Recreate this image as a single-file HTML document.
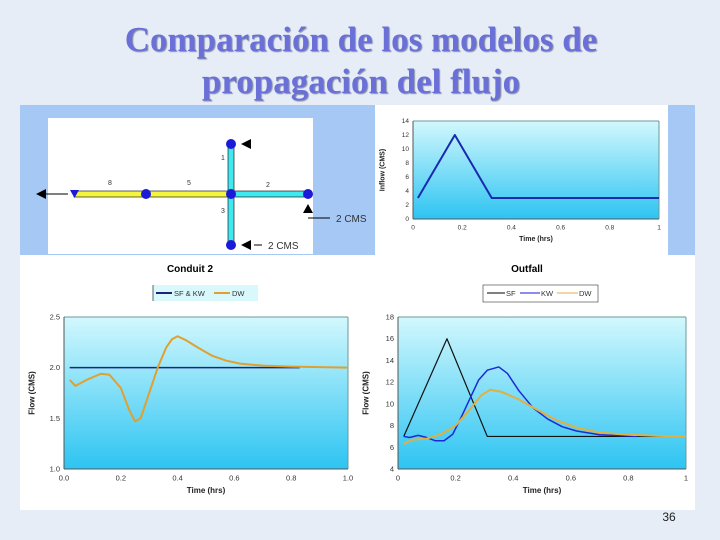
<!DOCTYPE html>
<html><head><meta charset="utf-8"><style>
html,body{margin:0;padding:0;background:#e6edf6;}
svg{display:block;font-family:"Liberation Sans",sans-serif;}
</style></head><body>
<svg id="s" width="720" height="540" viewBox="0 0 720 540">
<defs>
<linearGradient id="g" x1="0" y1="0" x2="0" y2="1"><stop offset="0" stop-color="#d2f8fd"/><stop offset="1" stop-color="#2dc4f2"/></linearGradient>
</defs>
<rect x="0" y="0" width="720" height="540" fill="#e6edf6"/>
<g font-family="Liberation Serif,serif" font-weight="bold" font-size="35" fill="#6a70d8" text-anchor="middle" style="text-shadow:1px 1px 1px #8890a8">
<text x="361" y="51">Comparación de los modelos de</text>
<text x="361" y="93">propagación del flujo</text>
</g>
<rect x="20" y="105" width="675" height="405" fill="#fff"/>
<rect x="20" y="105" width="675" height="150" fill="#a6c8f4"/>
<rect x="48" y="118" width="265" height="136" fill="#fff"/>
<rect x="375" y="105" width="293" height="150" fill="#fff"/>
<g id="diagram">
<rect x="74" y="191" width="157" height="6" fill="#f5f540" stroke="#000" stroke-width="0.6"/>
<rect x="231" y="191" width="77" height="6" fill="#40e8f0" stroke="#000" stroke-width="0.6"/>
<rect x="228" y="144" width="6" height="101" fill="#40e8f0" stroke="#000" stroke-width="0.6"/>
<circle cx="231" cy="144" r="5" fill="#1a1ad8"/><circle cx="231" cy="194" r="5" fill="#1a1ad8"/>
<circle cx="231" cy="245" r="5" fill="#1a1ad8"/><circle cx="146" cy="194" r="5" fill="#1a1ad8"/>
<circle cx="308" cy="194" r="5" fill="#1a1ad8"/>
<polygon points="70,190 79,190 74.5,198" fill="#1a1ad8"/>
<line x1="44" y1="194" x2="68" y2="194" stroke="#000"/><polygon points="36,194 46,189 46,199" fill="#000"/>
<polygon points="241,144 251,139 251,149" fill="#000"/>
<polygon points="241,245 251,240 251,250" fill="#000"/><line x1="254" y1="245" x2="262" y2="245" stroke="#000"/>
<polygon points="303,213 308,204 313,213" fill="#000"/><line x1="308" y1="218" x2="330" y2="218" stroke="#000"/>
<g font-size="7" fill="#333"><text x="108" y="185">8</text><text x="187" y="185">5</text><text x="266" y="187">2</text><text x="221" y="160">1</text><text x="221" y="213">3</text></g>
<text x="336" y="222" font-size="10" fill="#333">2 CMS</text>
<text x="268" y="249" font-size="10" fill="#333">2 CMS</text>
</g>
<g id="inflow"></g>
<g id="conduit"></g>
<g id="outfall"></g>
<text x="190" y="272" font-size="10" font-weight="bold" text-anchor="middle">Conduit 2</text>
<text x="527" y="272" font-size="10" font-weight="bold" text-anchor="middle">Outfall</text>
<g font-size="7.5" fill="#333">
<rect x="153" y="285" width="105" height="16" fill="#d8f8fc"/><line x1="153" y1="285" x2="153" y2="301" stroke="#000" stroke-width="0.6"/>
<line x1="156" y1="293" x2="172" y2="293" stroke="#1a237e" stroke-width="2"/><text x="174" y="296">SF &amp; KW</text>
<line x1="214" y1="293" x2="230" y2="293" stroke="#e0a030" stroke-width="2"/><text x="232" y="296">DW</text>
</g>
<g font-size="7.5" fill="#333">
<rect x="483" y="285" width="115" height="17" fill="#fff" stroke="#333" stroke-width="0.6"/>
<line x1="487" y1="293" x2="505" y2="293" stroke="#000"/><text x="506" y="296">SF</text>
<line x1="520" y1="293" x2="540" y2="293" stroke="#1a1ad8"/><text x="541" y="296">KW</text>
<line x1="557" y1="293" x2="578" y2="293" stroke="#e0b040"/><text x="579" y="296">DW</text>
</g>
<text x="669" y="521" font-size="12" fill="#222" text-anchor="middle">36</text>
</svg>
<script>
const NS="http://www.w3.org/2000/svg";
const inflowT=[0.02,0.17,0.32,1.0];
const inflowQ=[3,12,3,3];
const conduitSFT=[0.02,0.83];
const conduitSFQ=[2.0,2.0];
const conduitDWT=[0.02,0.04,0.08,0.13,0.16,0.2,0.23,0.25,0.27,0.3,0.33,0.36,0.38,0.4,0.43,0.47,0.52,0.57,0.62,0.7,0.8,1.0];
const conduitDWQ=[1.88,1.82,1.88,1.94,1.93,1.8,1.58,1.47,1.5,1.75,2.0,2.2,2.28,2.31,2.27,2.2,2.12,2.07,2.04,2.02,2.01,2.0];
const outSFT=[0.02,0.17,0.31,1.0];
const outSFQ=[7,16,7,7];
const outKWT=[0.02,0.04,0.07,0.1,0.13,0.16,0.19,0.22,0.25,0.28,0.31,0.35,0.38,0.42,0.47,0.52,0.57,0.62,0.7,0.8,0.83];
const outKWQ=[7,6.9,7.1,6.9,6.6,6.6,7.2,8.8,10.5,12.2,13.1,13.4,12.8,11.2,9.6,8.6,7.9,7.5,7.15,7.05,7.0];
const outDWT=[0.02,0.05,0.1,0.15,0.2,0.25,0.29,0.32,0.36,0.42,0.48,0.55,0.62,0.7,0.8,0.9,1.0];
const outDWQ=[6.3,6.7,6.8,7.2,8.0,9.5,10.8,11.3,11.1,10.4,9.5,8.5,7.8,7.35,7.15,7.05,7.0];
const inflowYTicks=["0","2","4","6","8","10","12","14"];
const inflowXTicks=["0","0.2","0.4","0.6","0.8","1"];
const conduitYTicks=["1.0","1.5","2.0","2.5"];
const conduitXTicks=["0.0","0.2","0.4","0.6","0.8","1.0"];
const outYTicks=["4","6","8","10","12","14","16","18"];
const outXTicks=["0","0.2","0.4","0.6","0.8","1"];
function mk(p,tag,a){const e=document.createElementNS(NS,tag);for(const k in a)e.setAttribute(k,a[k]);p.appendChild(e);return e;}
function chart(g,b,ymin,ymax,yt,xt,ylab,fs){
  const sx=v=>b.x+(v)*(b.w), sy=v=>b.y+b.h-(v-ymin)/(ymax-ymin)*b.h;
  mk(g,'rect',{x:b.x,y:b.y,width:b.w,height:b.h,fill:'url(#g)'});
  mk(g,'line',{x1:b.x,y1:b.y,x2:b.x+b.w,y2:b.y,stroke:'#6a9a9a','stroke-width':1});
  mk(g,'line',{x1:b.x+b.w,y1:b.y,x2:b.x+b.w,y2:b.y+b.h,stroke:'#6a9a9a','stroke-width':1});
  mk(g,'line',{x1:b.x,y1:b.y,x2:b.x,y2:b.y+b.h,stroke:'#555'});
  mk(g,'line',{x1:b.x,y1:b.y+b.h,x2:b.x+b.w,y2:b.y+b.h,stroke:'#555'});
  yt.forEach(t=>{const y=sy(parseFloat(t));const e=mk(g,'text',{x:b.x-4,y:y+fs/3,'font-size':fs,'text-anchor':'end',fill:'#333'});e.textContent=t;
    
    });
  xt.forEach(t=>{const x=sx(parseFloat(t));const e=mk(g,'text',{x:x,y:b.y+b.h+fs+4,'font-size':fs,'text-anchor':'middle',fill:'#333'});e.textContent=t;
    
    });
  const xl=mk(g,'text',{x:b.x+b.w/2,y:b.y+b.h+2*fs+9,'font-size':fs+0.5,'text-anchor':'middle','font-weight':'bold',fill:'#222'});xl.textContent='Time (hrs)';
  
  
  const cx=b.x-22-fs, cy=b.y+b.h/2;
  const yl=mk(g,'text',{x:cx,y:cy,'font-size':fs+0.5,'text-anchor':'middle','font-weight':'bold',fill:'#222',transform:`rotate(-90 ${cx} ${cy})`});yl.textContent=ylab;
  
  
  return (T,Q,col,w,name)=>{const p=mk(g,'polyline',{points:T.map((t,i)=>sx(t)+','+sy(Q[i])).join(' '),fill:'none',stroke:col,'stroke-width':w,'stroke-linejoin':'round'});
    
    };
}
let d=chart(document.getElementById('inflow'),{x:413,y:121,w:246,h:98},0,14,inflowYTicks,inflowXTicks,'Inflow (CMS)',6.5);
d(inflowT,inflowQ,'#1a2ab0',2,'inflow-line');
d=chart(document.getElementById('conduit'),{x:64,y:317,w:284,h:152},1,2.5,conduitYTicks,conduitXTicks,'Flow (CMS)',7.5);
d(conduitSFT,conduitSFQ,'#1a237e',1.5,'sf-kw-line');
d(conduitDWT,conduitDWQ,'#e0a030',2,'dw-line');
d=chart(document.getElementById('outfall'),{x:398,y:317,w:288,h:152},4,18,outYTicks,outXTicks,'Flow (CMS)',7.5);
d(outSFT,outSFQ,'#111',1.2,'sf-line');
d(outKWT,outKWQ,'#1a2ad8',1.5,'kw-line');
d(outDWT,outDWQ,'#e0b040',2,'dw-line');
</script>
</body></html>
